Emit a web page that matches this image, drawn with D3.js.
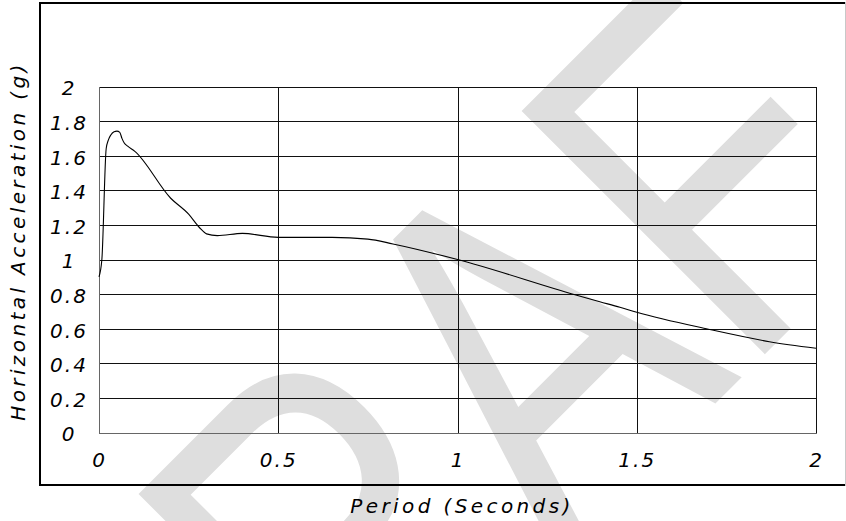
<!DOCTYPE html>
<html>
<head>
<meta charset="utf-8">
<script src="https://cdn.jsdelivr.net/npm/d3@7/dist/d3.min.js"></script>
<style>
  html, body { margin: 0; padding: 0; background: #fff; }
  svg { display: block; }
</style>
</head>
<body>
<svg id="chart" width="846" height="521"></svg>
<script>
// ---- data ----
const periods = [0, 0.008, 0.02, 0.026, 0.033, 0.042, 0.05, 0.058, 0.064, 0.07, 0.08, 0.1,
                 0.2, 0.25, 0.28, 0.3, 0.33, 0.4, 0.5, 0.65, 0.75, 0.82, 1.0, 1.33, 1.397,
                 1.453, 1.5, 1.7, 1.87, 2.0];
const accel   = [0.9, 1.0, 1.64, 1.69, 1.72, 1.738, 1.742, 1.735, 1.70, 1.675, 1.655, 1.625,
                 1.354, 1.262, 1.185, 1.148, 1.138, 1.151, 1.128, 1.128, 1.118, 1.09, 1.0, 0.795, 0.756,
                 0.724, 0.695, 0.597, 0.525, 0.487];
const xTicks = [0, 0.5, 1, 1.5, 2];
const xTickLabels = ["0", "0.5", "1", "1.5", "2"];
const yTicks = [0, 0.2, 0.4, 0.6, 0.8, 1, 1.2, 1.4, 1.6, 1.8, 2];
const yTickLabels = ["0", "0.2", "0.4", "0.6", "0.8", "1", "1.2", "1.4", "1.6", "1.8", "2"];
const xTitle = "Period (Seconds)";
const yTitle = "Horizontal Acceleration (g)";
const watermark = "DRAFT";

// ---- layout ----
const svg = d3.select("#chart");
const plot = { left: 99, right: 816, top: 86.5, bottom: 432.5 };
const x = d3.scaleLinear().domain([0, 2]).range([plot.left, plot.right]);
const y = d3.scaleLinear().domain([0, 2]).range([plot.bottom, plot.top]);
const font = "'DejaVu Sans', sans-serif";

// watermark (behind)
svg.append("text")
  .attr("transform", "translate(160,959) rotate(-45) scale(0.78,1)")
  .attr("font-family", "'Liberation Sans', Arial, sans-serif")
  .attr("font-size", 500)
  .attr("fill", "#dedede")
  .text(watermark);

// outer frame
const frame = svg.append("g").attr("fill", "none");
frame.append("line").attr("x1", 40).attr("x2", 40).attr("y1", 2).attr("y2", 486).attr("stroke", "#000").attr("stroke-width", 2);
frame.append("line").attr("x1", 39).attr("x2", 846).attr("y1", 3).attr("y2", 3).attr("stroke", "#000").attr("stroke-width", 2);
frame.append("line").attr("x1", 39).attr("x2", 846).attr("y1", 485).attr("y2", 485).attr("stroke", "#000").attr("stroke-width", 2);
frame.append("line").attr("x1", 845.5).attr("x2", 845.5).attr("y1", 2).attr("y2", 486).attr("stroke", "#c8c8c8").attr("stroke-width", 1);

// grid
const grid = svg.append("g").attr("shape-rendering", "crispEdges");
grid.selectAll("line.h").data(yTicks.filter(d => d > 0)).join("line")
  .attr("class", "h")
  .attr("x1", plot.left).attr("x2", plot.right)
  .attr("y1", d => Math.round(y(d)) + 0.5).attr("y2", d => Math.round(y(d)) + 0.5)
  .attr("stroke", "#111").attr("stroke-width", 1);
grid.selectAll("line.v").data(xTicks.filter(d => d > 0)).join("line")
  .attr("class", "v")
  .attr("y1", plot.top).attr("y2", plot.bottom)
  .attr("x1", d => Math.round(x(d)) + 0.5).attr("x2", d => Math.round(x(d)) + 0.5)
  .attr("stroke", "#111").attr("stroke-width", 1);
// plot left/bottom axis lines
grid.append("line").attr("x1", plot.left + 0.5).attr("x2", plot.left + 0.5)
  .attr("y1", plot.top).attr("y2", plot.bottom + 1).attr("stroke", "#666");
grid.append("line").attr("x1", plot.left).attr("x2", plot.right + 1)
  .attr("y1", Math.round(plot.bottom) + 0.5).attr("y2", Math.round(plot.bottom) + 0.5).attr("stroke", "#666");

// axes labels via d3 axes (no domain/ticks lines)
const yAxis = d3.axisLeft(y).tickValues(yTicks).tickFormat((d, i) => yTickLabels[i]).tickSize(0).tickPadding(0);
const gy = svg.append("g").attr("transform", "translate(69,0)").call(yAxis);
gy.select(".domain").remove();
gy.selectAll("text")
  .attr("font-family", font).attr("font-size", 20).attr("font-style", "italic")
  .attr("letter-spacing", 2).attr("text-anchor", "middle")
  .attr("dy", "0.42em").attr("fill", "#000");

const xAxis = d3.axisBottom(x).tickValues(xTicks).tickFormat((d, i) => xTickLabels[i]).tickSize(0).tickPadding(0);
const gx = svg.append("g").attr("transform", "translate(0,467)").call(xAxis);
gx.select(".domain").remove();
gx.selectAll("text")
  .attr("font-family", font).attr("font-size", 20).attr("font-style", "italic")
  .attr("letter-spacing", 2).attr("text-anchor", "middle")
  .attr("y", 0).attr("dy", 0).attr("fill", "#000");

// titles
svg.append("text")
  .attr("x", 462).attr("y", 513)
  .attr("text-anchor", "middle")
  .attr("font-family", font).attr("font-size", 20).attr("font-style", "italic")
  .attr("letter-spacing", 3.4)
  .text(xTitle);
svg.append("text")
  .attr("transform", "translate(25,241) rotate(-90)")
  .attr("text-anchor", "middle")
  .attr("font-family", font).attr("font-size", 20).attr("font-style", "italic")
  .attr("letter-spacing", 3.4)
  .text(yTitle);

// series line
const line = d3.line().x(d => x(d[0])).y(d => y(d[1])).curve(d3.curveMonotoneX);
svg.append("path")
  .datum(periods.map((p, i) => [p, accel[i]]))
  .attr("d", line)
  .attr("fill", "none").attr("stroke", "#000").attr("stroke-width", 1.1);
</script>
</body>
</html>
